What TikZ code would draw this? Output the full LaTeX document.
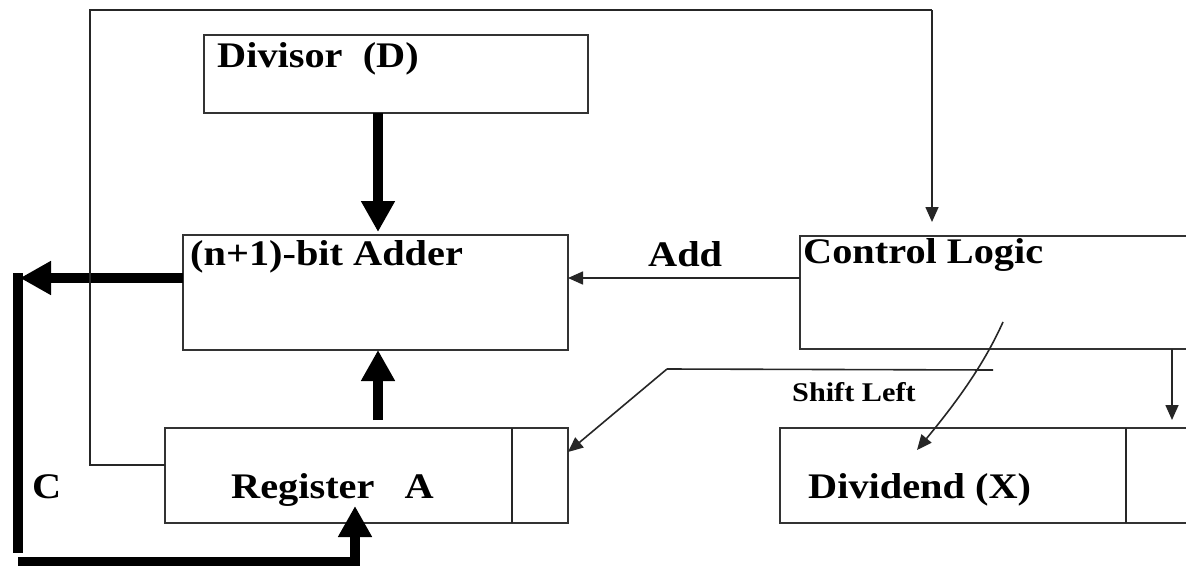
\documentclass[tikz,border=0pt]{standalone}
\usepackage{graphicx}
\usepackage{fontspec}
\setmainfont{Liberation Serif}
\usetikzlibrary{arrows.meta,calc}
\newcommand\tx[1]{\scalebox{1.12}[1]{#1}}
\begin{document}
\begin{tikzpicture}[x=1pt,y=-1pt,
  box/.style={draw=black!80,line width=1.6pt,inner sep=0pt,outer sep=0pt,anchor=north west},
  lbl/.style={anchor=base west,inner sep=0pt,font=\fontsize{36}{40}\selectfont\bfseries},
  small/.style={anchor=base west,inner sep=0pt,font=\fontsize{27}{30}\selectfont\bfseries},
  thin/.style={draw=black!85,line width=1.6pt},
  thinarrow/.style={thin,-{Triangle[length=15pt,width=13pt]}},
  thick/.style={draw=black,line width=10pt},
  thickarrow/.style={thick,-{Triangle[length=31pt,width=32pt]}}]
\useasboundingbox (0,0) rectangle (1186,565);
\fill[white] (0,0) rectangle (1186,565);
% boxes
\node[box,minimum width=384pt,minimum height=78pt] (div) at (204,35) {};
\node[box,minimum width=385pt,minimum height=115pt] (add) at (183,235) {};
\node[box,minimum width=400pt,minimum height=113pt] (ctrl) at (800,236) {};
\node[box,minimum width=403pt,minimum height=95pt] (rega) at (165,428) {};
\node[box,minimum width=420pt,minimum height=95pt] (divd) at (780,428) {};
\coordinate (ra) at (512,0);
\coordinate (rd) at (1126,0);
\draw[thin] (rega.north -| ra) -- (rega.south -| ra);
\draw[thin] (divd.north -| rd) -- (divd.south -| rd);
% texts
\node[lbl] (tdiv) at (217,67) {\tx{Divisor\ \ (D)}};
\node[lbl] (tadd) at (190,265) {\tx{(n+1)-bit Adder}};
\node[lbl] (tctrl) at (803,263) {\tx{Control Logic}};
\node[lbl] (taddop) at (648,266) {\tx{Add}};
\node[lbl] (trega) at (231,498) {\tx{Register\ \ \ A}};
\node[lbl] (tdivd) at (808,498) {\tx{Dividend (X)}};
\node[lbl] (tc) at (32,498) {\tx{C}};
\node[small] (tshift) at (792,401) {\tx{Shift Left}};
% coordinates
\coordinate (ax) at (378,0);
\coordinate (ay1) at (0,420);
\coordinate (ay2) at (0,232);
\coordinate (fb1) at (90,465);
\coordinate (fb2) at (90,10);
\coordinate (fb3) at (932,10);
\coordinate (fb4) at (932,222);
\coordinate (c1) at (20,278);
\coordinate (c1b) at (18,273);
\coordinate (c2) at (18,553);
\coordinate (c3) at (18,562);
\coordinate (c4) at (355,562);
\coordinate (c5) at (355,506);
\coordinate (s1) at (993,370);
\coordinate (s2) at (667,369);
\coordinate (k1) at (1003,322);
\coordinate (k2) at (917,450);
\coordinate (r1) at (1172,349);
\coordinate (r2) at (1172,420);
\coordinate (ly) at (0,278);
\coordinate (sy) at (0,452);
% connectors
\draw[thickarrow] (div.south -| ax) -- (ay2 -| ax);
\draw[thickarrow] (ay1 -| ax) -- (add.south -| ax);
\draw[thickarrow] (add.west |- ly) -- (c1);
\draw[thick] (c1b) -- (c2);
\draw[thick] (c3) -- ([xshift=5pt]c4);
\draw[thickarrow] (c4) -- (c5);
\draw[thinarrow] (ctrl.west |- ly) -- (add.east |- ly);
\draw[thin] (rega.west |- fb1) -- (fb1) -- (fb2) -- (fb3);
\draw[thinarrow] (fb3) -- (fb4);
\draw[thin] (s1) -- (s2);
\draw[thinarrow] (s2) -- (rega.east |- sy);
\draw[thinarrow] (k1) .. controls (985,362) and (960,398) .. (k2);
\draw[thinarrow] (ctrl.south -| r1) -- (r2);
\end{tikzpicture}
\end{document}
